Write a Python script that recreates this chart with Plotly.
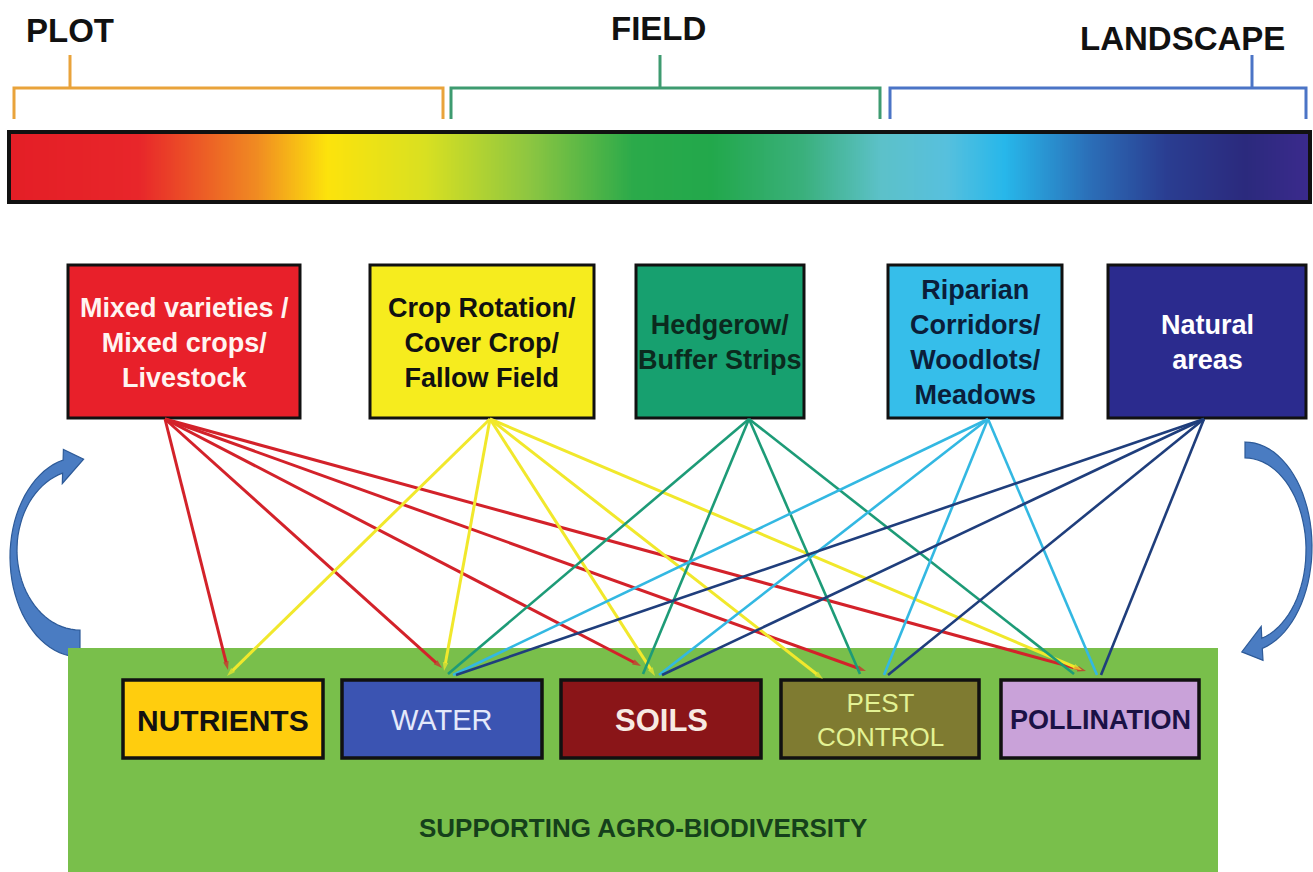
import numpy as np
import plotly.graph_objects as go

W, H = 1313, 872

# ---------------- data ----------------
scale_labels = ["PLOT", "FIELD", "LANDSCAPE"]
scale_colors = ["#E9A33B", "#3E9B70", "#4B74C6"]

practices = ["Mixed varieties /<br>Mixed crops/<br>Livestock",
             "Crop Rotation/<br>Cover Crop/<br>Fallow Field",
             "Hedgerow/<br>Buffer Strips",
             "Riparian<br>Corridors/<br>Woodlots/<br>Meadows",
             "Natural<br>areas"]
practice_fill = ["#E8202A", "#F6EC1E", "#17A06F", "#36BEEA", "#2B2B8E"]
practice_text = ["#FFF4F0", "#111111", "#0B2A1E", "#0B1E3A", "#FFFFFF"]
practice_line = ["#D3222A", "#F1E82C", "#1D9B77", "#33B8E2", "#1F3E7C"]

services = ["NUTRIENTS", "WATER", "SOILS", "PEST<br>CONTROL", "POLLINATION"]
service_fill = ["#FFCD0E", "#3B54B2", "#8A1518", "#7F7B31", "#C9A2D9"]
service_text = ["#111111", "#E4E9FB", "#F7EAE2", "#E3F294", "#1B1245"]

# which services each practice supports
links_mixed = ["NUTRIENTS", "WATER", "SOILS", "PEST<br>CONTROL", "POLLINATION"]
links_rotation = ["NUTRIENTS", "WATER", "SOILS", "PEST<br>CONTROL", "POLLINATION"]
links_hedgerow = ["WATER", "SOILS", "PEST<br>CONTROL", "POLLINATION"]
links_riparian = ["WATER", "SOILS", "PEST<br>CONTROL", "POLLINATION"]
links_natural = ["WATER", "SOILS", "PEST<br>CONTROL", "POLLINATION"]
links = [links_mixed, links_rotation, links_hedgerow, links_riparian, links_natural]

bottom_label = "SUPPORTING AGRO-BIODIVERSITY"

gradient_stops = [0.0, 0.10, 0.19, 0.245, 0.32, 0.40, 0.48, 0.54, 0.61,
                  0.67, 0.72, 0.765, 0.83, 0.89, 0.95, 1.0]
gradient_colors = ["#E41E26", "#E8262A", "#F08A22", "#FCE30C", "#D9E021",
                   "#8DC641", "#2BAA4A", "#22A84B", "#3AB07C", "#5CC1C9",
                   "#57C0DD", "#27B7EA", "#2B6FB8", "#2A3D91", "#2B2A7D",
                   "#3B2A8D"]

# ---------------- layout geometry ----------------
FONT = "Liberation Sans, Arial, sans-serif"
label_pos = [(70, 30), (658, 28), (1182, 38)]
brackets = [(14, 443, 70), (451, 880, 660), (890, 1306, 1252)]
BR_Y, BR_LEG, BR_STEM = 88, 119, 55
BAR = (9, 1310, 132, 202)

top_boxes = [(68, 300), (370, 594), (636, 804), (888, 1062), (1108, 1306)]
TOP_Y0, TOP_Y1 = 265, 418
line_start_x = [165, 490, 749, 988, 1204]

bot_boxes = [(123, 323), (342, 542), (561, 761), (781, 979), (1001, 1199)]
BOT_Y0, BOT_Y1 = 680, 758
GREEN = (68, 1218, 648, 872)

# end point of each link on top of the service boxes: (practice idx, service idx) -> (x, y)
anchors = {
    (0, 0): (228, 670), (1, 0): (227, 676),
    (0, 1): (442, 668), (1, 1): (444, 671), (2, 1): (448, 674), (3, 1): (453, 675), (4, 1): (456, 675),
    (0, 2): (641, 666), (1, 2): (655, 676), (2, 2): (643, 674), (3, 2): (659, 675), (4, 2): (662, 675),
    (0, 3): (866, 671), (1, 3): (823, 679), (2, 3): (860, 674), (3, 3): (884, 675), (4, 3): (888, 675),
    (0, 4): (1086, 671), (1, 4): (1082, 670), (2, 4): (1074, 674), (3, 4): (1097, 675), (4, 4): (1101, 675),
}

fig = go.Figure()
shapes = []
annotations = []

# ---- scale labels and brackets ----
for lab, col, (lx, ly), (bx0, bx1, stem) in zip(scale_labels, scale_colors, label_pos, brackets):
    annotations.append(dict(x=lx, y=ly, text=lab, showarrow=False, xanchor="center", yanchor="middle",
                            font=dict(family=FONT, size=33, color="#111111", weight="bold")))
    shapes.append(dict(type="path", xref="x", yref="y",
                       path=f"M {bx0},{BR_LEG} L {bx0},{BR_Y} L {bx1},{BR_Y} L {bx1},{BR_LEG}",
                       line=dict(color=col, width=3), layer="above"))
    shapes.append(dict(type="line", xref="x", yref="y", x0=stem, x1=stem, y0=BR_Y, y1=BR_STEM,
                       line=dict(color=col, width=3), layer="above"))

# ---- gradient bar ----
bx0, bx1, by0, by1 = BAR
edges = np.linspace(bx0, bx1, 651)
centers = (edges[:-1] + edges[1:]) / 2
fig.add_trace(go.Heatmap(x=edges, y=[by0, by1], z=[centers], zmin=bx0, zmax=bx1,
                         colorscale=[[s, c] for s, c in zip(gradient_stops, gradient_colors)],
                         showscale=False, hoverinfo="skip"))
shapes.append(dict(type="rect", xref="x", yref="y", x0=bx0, x1=bx1, y0=by0, y1=by1,
                   line=dict(color="#111111", width=4), layer="above"))

# ---- curved arrows ----
def curved_arrow(cx, outer, inner, phi_o, phi_i, hw, hl):
    """outer/inner = (cy, rx, ry); phi_* = (start, end) in degrees"""
    def pts(cy, rx, ry, a0, a1):
        ph = np.radians(np.linspace(a0, a1, 40))
        return np.c_[cx + rx * np.cos(ph), cy + ry * np.sin(ph)]
    po = pts(*outer, *phi_o)
    pi_ = pts(*inner, *phi_i)[::-1]
    cy, rx, ry = outer
    a = np.radians(phi_o[1])
    sgn = np.sign(phi_o[1] - phi_o[0])
    t = sgn * np.array([-rx * np.sin(a), ry * np.cos(a)])
    t = t / np.linalg.norm(t)
    mid = (po[-1] + pi_[0]) / 2
    n = po[-1] - mid
    n = n / np.linalg.norm(n)
    head = [mid + n * hw, mid + t * hl, mid - n * hw]
    allp = np.vstack([po, head, pi_])
    return "M " + " L ".join(f"{x:.1f},{y:.1f}" for x, y in allp) + " Z"

arrow_style = dict(type="path", xref="x", yref="y", fillcolor="#4A7CC2",
                   line=dict(color="#2D5A98", width=1.2), layer="below")
shapes.append(dict(path=curved_arrow(80, (557, 70, 100), (550, 63, 80), (90, 256), (90, 254), 17, 22),
                   **arrow_style))
shapes.append(dict(path=curved_arrow(1245, (547, 67, 105), (550, 61, 92), (-90, 75), (-90, 74), 17, 22),
                   **arrow_style))

# ---- green background ----
gx0, gx1, gy0, gy1 = GREEN
shapes.append(dict(type="rect", xref="x", yref="y", x0=gx0, x1=gx1, y0=gy0, y1=gy1,
                   fillcolor="#79BF4B", line=dict(width=0), layer="below"))
annotations.append(dict(x=(gx0 + gx1) / 2, y=828, text=bottom_label, showarrow=False,
                        font=dict(family=FONT, size=26, color="#15401B", weight="bold")))

# ---- practice boxes ----
for name, fc, tc, (x0, x1) in zip(practices, practice_fill, practice_text, top_boxes):
    shapes.append(dict(type="rect", xref="x", yref="y", x0=x0, x1=x1, y0=TOP_Y0, y1=TOP_Y1,
                       fillcolor=fc, line=dict(color="#111111", width=3), layer="below"))
    annotations.append(dict(x=(x0 + x1) / 2, y=(TOP_Y0 + TOP_Y1) / 2 + 1, text=name, showarrow=False,
                            align="center",
                            font=dict(family=FONT, size=27, color=tc, weight="bold")))

# ---- service boxes ----
svc_font = [dict(size=30, weight="bold"), dict(size=29, weight="normal"),
            dict(size=31, weight="bold"), dict(size=26, weight="normal"),
            dict(size=27, weight="bold")]
for name, fc, tc, (x0, x1), f in zip(services, service_fill, service_text, bot_boxes, svc_font):
    shapes.append(dict(type="rect", xref="x", yref="y", x0=x0, x1=x1, y0=BOT_Y0, y1=BOT_Y1,
                       fillcolor=fc, line=dict(color="#111111", width=3.5), layer="below"))
    annotations.append(dict(x=(x0 + x1) / 2, y=(BOT_Y0 + BOT_Y1) / 2 + 1, text=name, showarrow=False,
                            align="center",
                            font=dict(family=FONT, size=f["size"], color=tc, weight=f["weight"])))

# ---- link lines ----
for i, (lst, col) in enumerate(zip(links, practice_line)):
    xs, ys, sizes = [], [], []
    for svc in lst:
        j = services.index(svc)
        ex, ey = anchors[(i, j)]
        xs += [line_start_x[i], ex, None]
        ys += [TOP_Y1 + 1, ey, None]
        sizes += [0, 9 if i < 2 else 0, 0]
    fig.add_trace(go.Scatter(x=xs, y=ys, mode="lines+markers",
                             line=dict(color=col, width=3 if i < 2 else 2.6),
                             marker=dict(symbol="arrow", angleref="previous", size=sizes, color=col,
                                         line=dict(width=0)),
                             hoverinfo="skip", showlegend=False))

fig.update_layout(
    width=W, height=H, margin=dict(l=0, r=0, t=0, b=0),
    paper_bgcolor="white", plot_bgcolor="white",
    xaxis=dict(range=[0, W], visible=False, fixedrange=True),
    yaxis=dict(range=[H, 0], visible=False, fixedrange=True),
    shapes=shapes, annotations=annotations, showlegend=False,
)
fig.write_html("out.html", config={"displayModeBar": False},
               post_script="document.body.style.margin='0px';document.body.style.overflow='hidden';")
